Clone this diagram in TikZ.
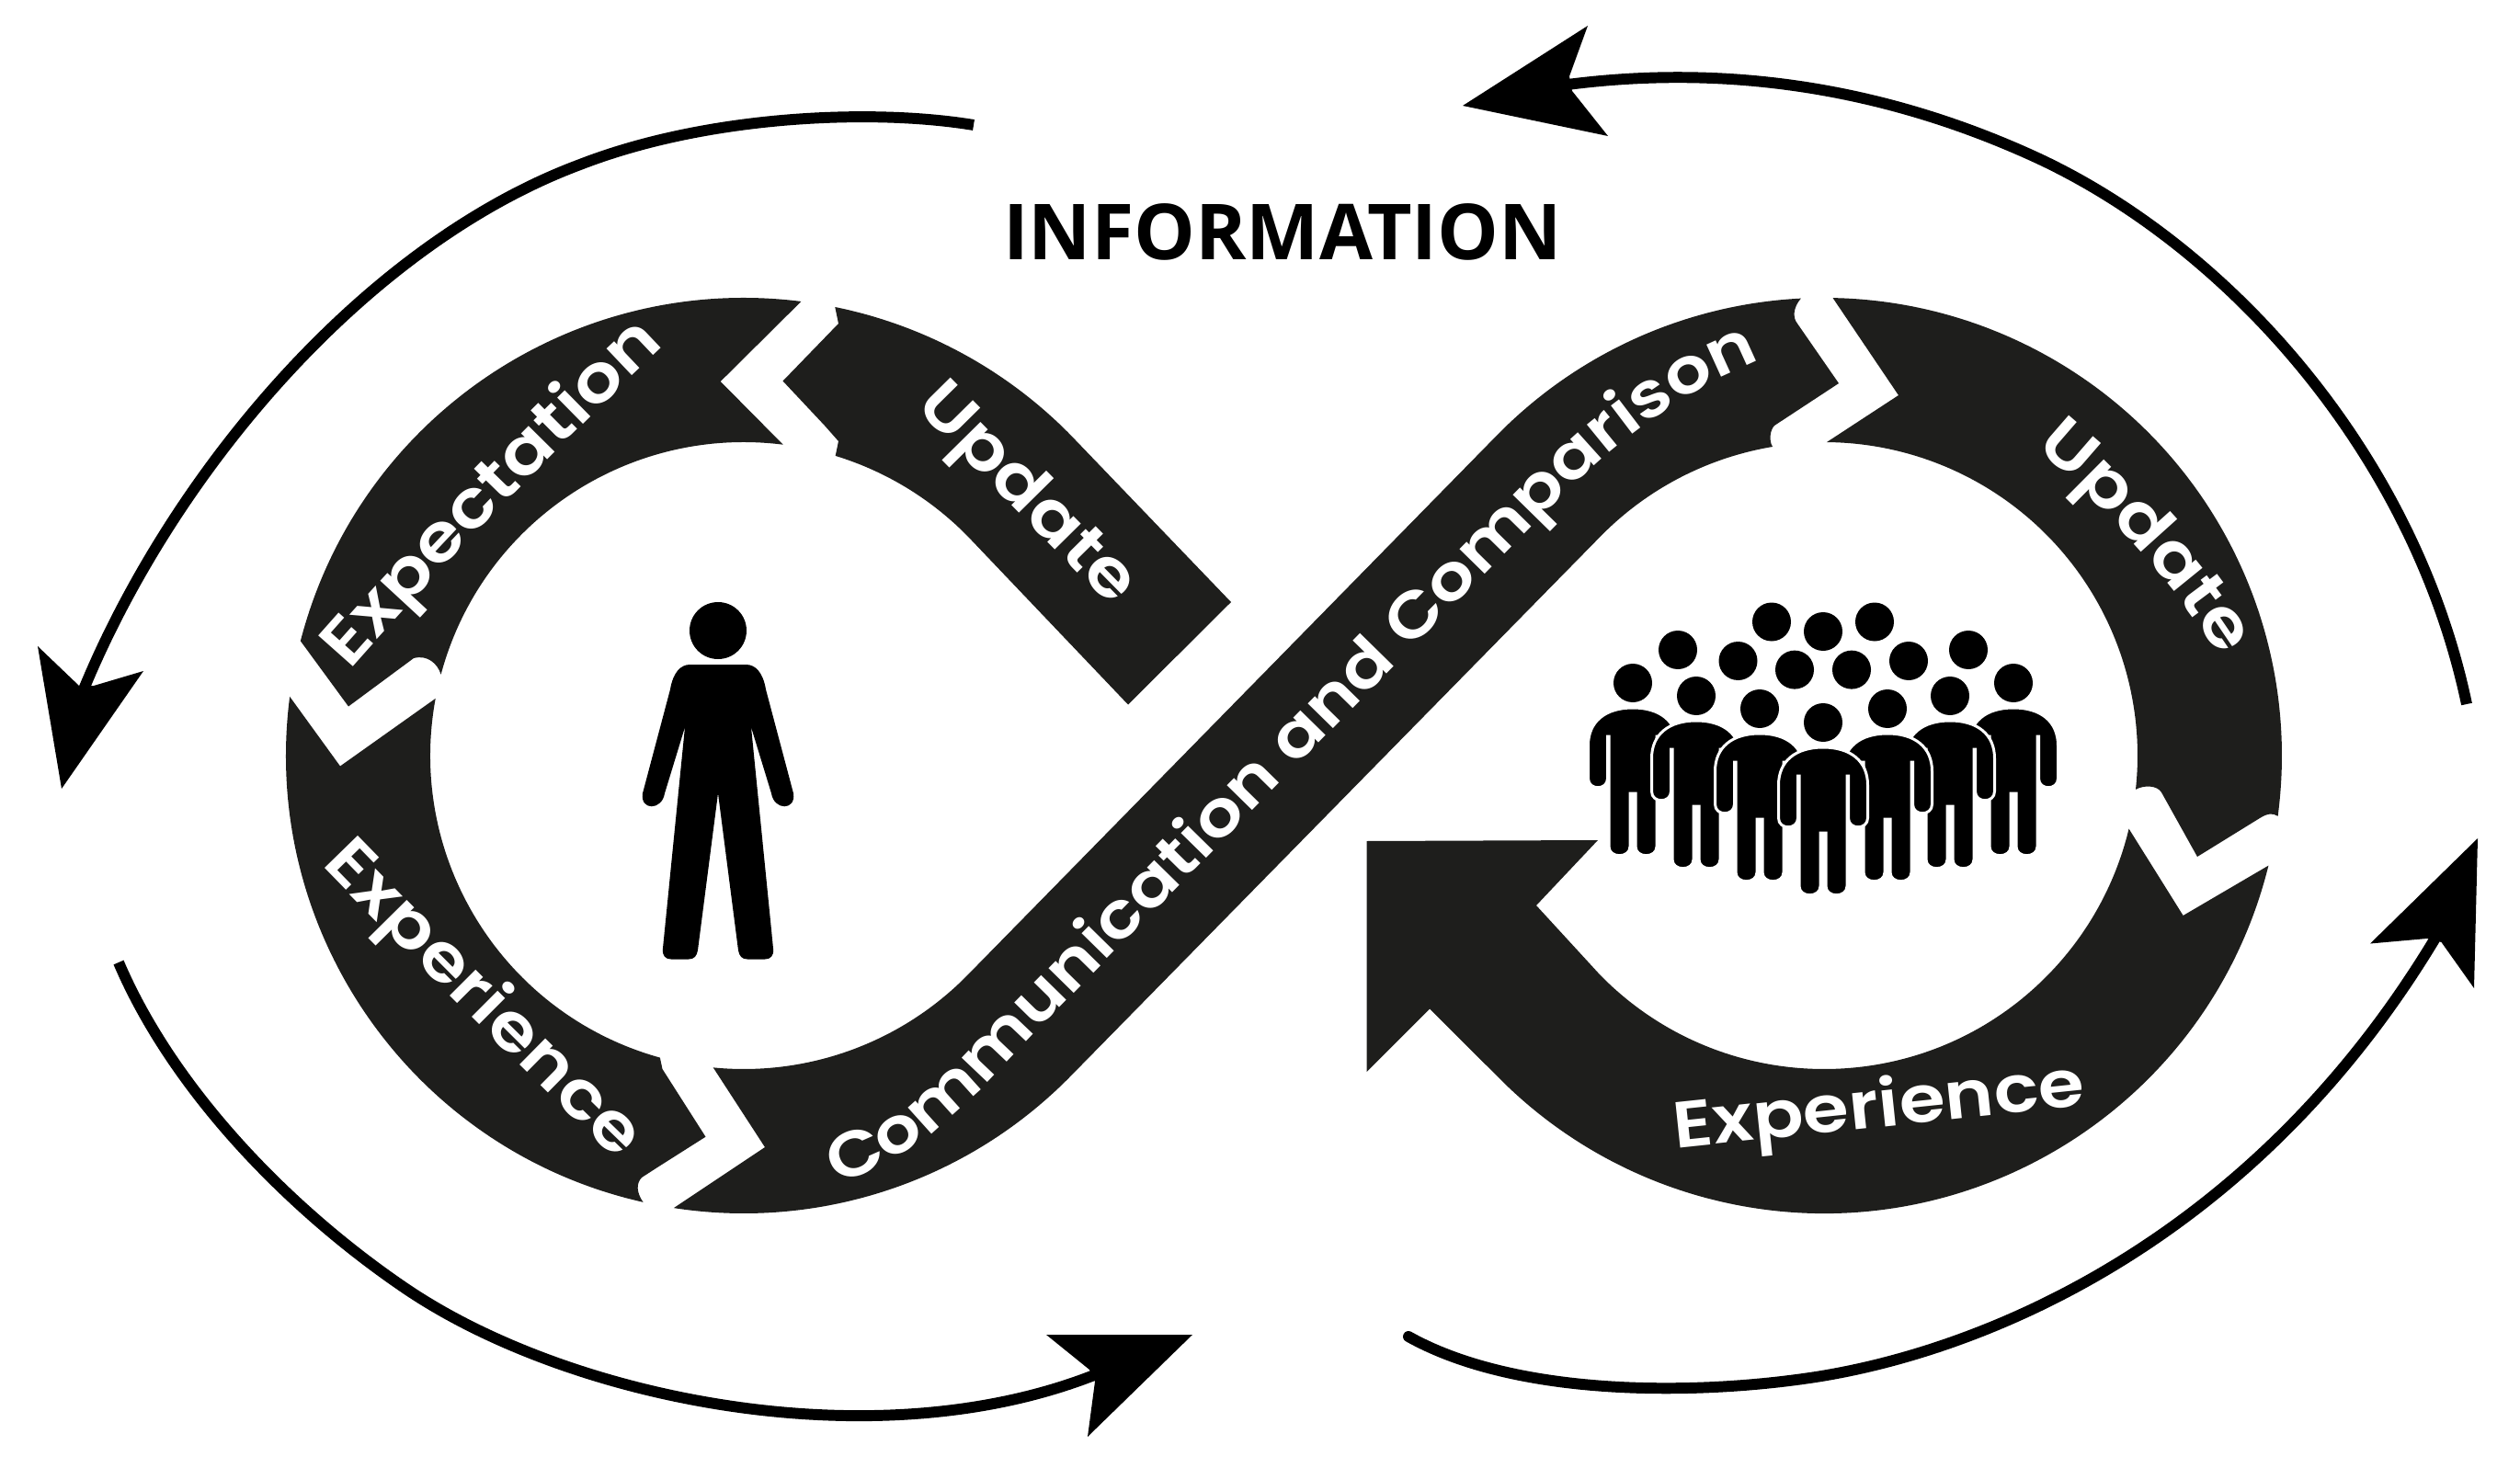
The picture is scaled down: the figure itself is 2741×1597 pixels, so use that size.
\documentclass[tikz,border=0pt]{standalone}
\usepackage{fontspec}
\usetikzlibrary{calc,decorations.text}
\newfontfamily\bandfont[FakeStretch=1.14]{Poppins SemiBold}
\newfontfamily\titlefont{Open Sans}
\definecolor{band}{HTML}{1E1E1C}
\newcommand{\bandtxt}{\fontsize{20.5pt}{24pt}\selectfont\bandfont\color{white}}
\newcommand{\bandtxtc}{\fontsize{19.7pt}{24pt}\selectfont\bandfont\color{white}}
\tikzset{
  bandfill/.style={fill=band},
  loopline/.style={draw=black,line width=3.4pt,line join=round},
  loophead/.style={fill=black},
  figurefill/.style={fill=black},
  curved text/.style={decorate,decoration={text along path,text={#1},text align=center}},
  groupman/.pic={
    \fill[black] (0,0) circle[radius=21];
    \path[fill=black,draw=white,line width=0.85pt]
      (0,27) .. controls (-30,27) and (-48.5,42) .. (-48.5,68) -- (-48.5,104)
      .. controls (-48.5,117) and (-27.5,117) .. (-27.5,104) -- (-27.5,58) -- (-26,58) -- (-26,178)
      .. controls (-26,191) and (-3,191) .. (-3,178) -- (-3,120) -- (3,120) -- (3,178)
      .. controls (3,191) and (26,191) .. (26,178) -- (26,58) -- (27.5,58) -- (27.5,104)
      .. controls (27.5,117) and (48.5,117) .. (48.5,104) -- (48.5,68)
      .. controls (48.5,42) and (30,27) .. (0,27) -- cycle;
  }
}
\begin{document}
\begin{tikzpicture}[x=0.01cm,y=-0.01cm]
\useasboundingbox (0,0) rectangle (2741,1597);
\fill[white] (0,0) rectangle (2741,1597);
\coordinate (CL) at (809,822);
\coordinate (CR) at (1984,822);

% --- ribbon segments
% Expectation
\fill[bandfill] ($(CL)+(194.5:498)$) arc[start angle=194.5,end angle=277.2,radius=498]
  -- (783.7,415) -- ($(CL)+(277.2:341)$) arc[start angle=277.2,end angle=195,radius=341]
  .. controls (476,722) and (465,712) .. (450,716) -- (379,768.5) -- cycle;
% Update (left)
\fill[bandfill] (1339,655) -- ($(CL)+(-44.4:498)$) arc[start angle=-44.4,end angle=-78.5,radius=498]
  -- (912,352) -- (851.5,414.5) -- (897,463) -- (912,480) -- ($(CL)+(-73:341)$)
  arc[start angle=-73,end angle=-44.4,radius=341] -- (1227,766.5) -- cycle;
% Experience (left)
\fill[bandfill] ($(CL)+(187.4:498)$) arc[start angle=187.4,end angle=102.7,radius=498]
  .. controls (692,1297) and (692,1287) .. (698,1281) -- (715,1270) -- (767.5,1236.7) -- (720.5,1163)
  -- ($(CL)+(105.5:341)$) arc[start angle=105.5,end angle=190.5,radius=341] -- (370,833.5) -- cycle;
% Communication and Comparison
\fill[bandfill] ($(CL)+(95.6:341)$) arc[start angle=95.6,end angle=44.4,radius=341]
  -- ($(CR)+(224.4:498)$) arc[start angle=224.4,end angle=267.1,radius=498]
  .. controls (1950,335) and (1950,346) .. (1955,352) -- (2000,417) -- (1930,463)
  .. controls (1925,468) and (1924,480) .. (1928,486)
  arc[start angle=260.5,end angle=224.4,radius=341]
  -- ($(CL)+(44.4:498)$) arc[start angle=44.4,end angle=98.8,radius=498] -- (832,1248) -- cycle;
% Update (right)
\fill[bandfill] ($(CR)+(271.1:498)$) arc[start angle=271.1,end angle=367.6,radius=498]
  .. controls (2472,884) and (2466,885) .. (2458,890) -- (2390,932) -- (2351,862)
  .. controls (2346,854) and (2332,854) .. ($(CR)+(6.2:341)$)
  arc[start angle=6.2,end angle=-89.5,radius=341] -- (2065,430) -- cycle;
% Experience (right) with arrow head
\fill[bandfill] ($(CR)+(13.9:498)$) arc[start angle=13.9,end angle=135.6,radius=498]
  -- (1555,1097.5) -- (1486.5,1166) -- (1486.5,915) -- (1738,914) -- (1671,985)
  -- ($(CR)+(135.6:341)$) arc[start angle=135.6,end angle=13.5,radius=341] -- (2374.6,996) -- cycle;

% --- texts on the ribbon
\path[curved text={|\bandtxt|Expectation}] (352,762) .. controls (470,625) and (620,470) .. (755,346);
\path[curved text={|\bandtxt|Experience}] (300,890) .. controls (420,1015) and (600,1195) .. (723,1312);
\path[curved text={|\bandtxt|Update}] (980,428) -- (1225,676);
\path[curved text={|\bandtxt|Update}] (2190,470) .. controls (2275,530) and (2375,645) .. (2430,740);
\path[curved text={|\bandtxtc|Communication and Comparison}]
  (860,1300) .. controls (990,1280) and (1060,1190) .. (1121,1128) -- (1697,541)
  .. controls (1760,480) and (1850,405) .. (1965,375);
\node[text=white,font=\bandfont\fontsize{20.2pt}{25pt}\selectfont,anchor=base,rotate=6,inner sep=0] (expR) at (2046,1226) {Experience};

% --- INFORMATION
\node[font=\titlefont\bfseries\fontsize{23.9pt}{28pt}\selectfont,inner sep=0] (info) at (1395,252) {INFORMATION};

% --- single person
\fill[figurefill] (781,686) circle[radius=31];
\fill[figurefill] (750.5,723) -- (811.5,723) .. controls (822,723) and (830,732) .. (833,750)
  -- (863,863) .. controls (866,882) and (842,882) .. (839,863) -- (817,791)
  -- (841,1031.6) .. controls (842,1040) and (838,1043.5) .. (832,1043.5) -- (813,1043.5)
  .. controls (807,1043.5) and (804,1040) .. (803,1033.7) -- (781,863)
  -- (759,1033.7) .. controls (758,1040) and (755,1043.5) .. (749,1043.5) -- (730,1043.5)
  .. controls (724,1043.5) and (720,1040) .. (721,1031.6) -- (745,791) -- (723,863)
  .. controls (720,882) and (696,882) .. (699,863) -- (729,750)
  .. controls (732,732) and (740,723) .. (750.5,723) -- cycle;

% --- crowd
\foreach \hx/\hy in {1825/707,1890.5/719,1952/728.6,2014/728.6,2076/719,2141/707,1927/676.5,1983/687,2039/676.5}
  \fill[figurefill] (\hx,\hy) circle[radius=21];
\foreach \hx/\hy in {1776/743,2190/743,1845/757,2121/757,1914/771,2053/771,1983/786}
  \pic at (\hx,\hy) {groupman};

% --- outer loop arrows
\draw[loopline] (1059,136) .. controls (950,118) and (770,125) .. (631,179) .. controls (400,265) and (190,510) .. (91,750);
\fill[loophead] (67,858) -- (41,703) -- (86,746) -- (102,746) -- (156,730) -- cycle;
\draw[loopline] (129,1047) .. controls (190,1190) and (320,1320) .. (443,1403) .. controls (620,1522) and (950,1590) .. (1190,1496);
\fill[loophead] (1297,1452) -- (1138,1452) -- (1185,1490) -- (1191,1503) -- (1183,1563) -- cycle;
\draw[loopline,line cap=round] (1532,1454) .. controls (1650,1520) and (1845,1518) .. (1975,1498) .. controls (2160,1469) and (2450,1350) .. (2648,1022);
\fill[loophead] (2695,912) -- (2578,1026.5) -- (2640,1021) -- (2655.5,1025) -- (2691,1075) -- cycle;
\draw[loopline] (2683,766) .. controls (2625,490) and (2420,265) .. (2212,170) .. controls (2032,88) and (1860,72) .. (1705,92);
\fill[loophead] (1591,115) -- (1727,28) -- (1707,83) -- (1710,99) -- (1749,148) -- cycle;
\end{tikzpicture}
\end{document}
